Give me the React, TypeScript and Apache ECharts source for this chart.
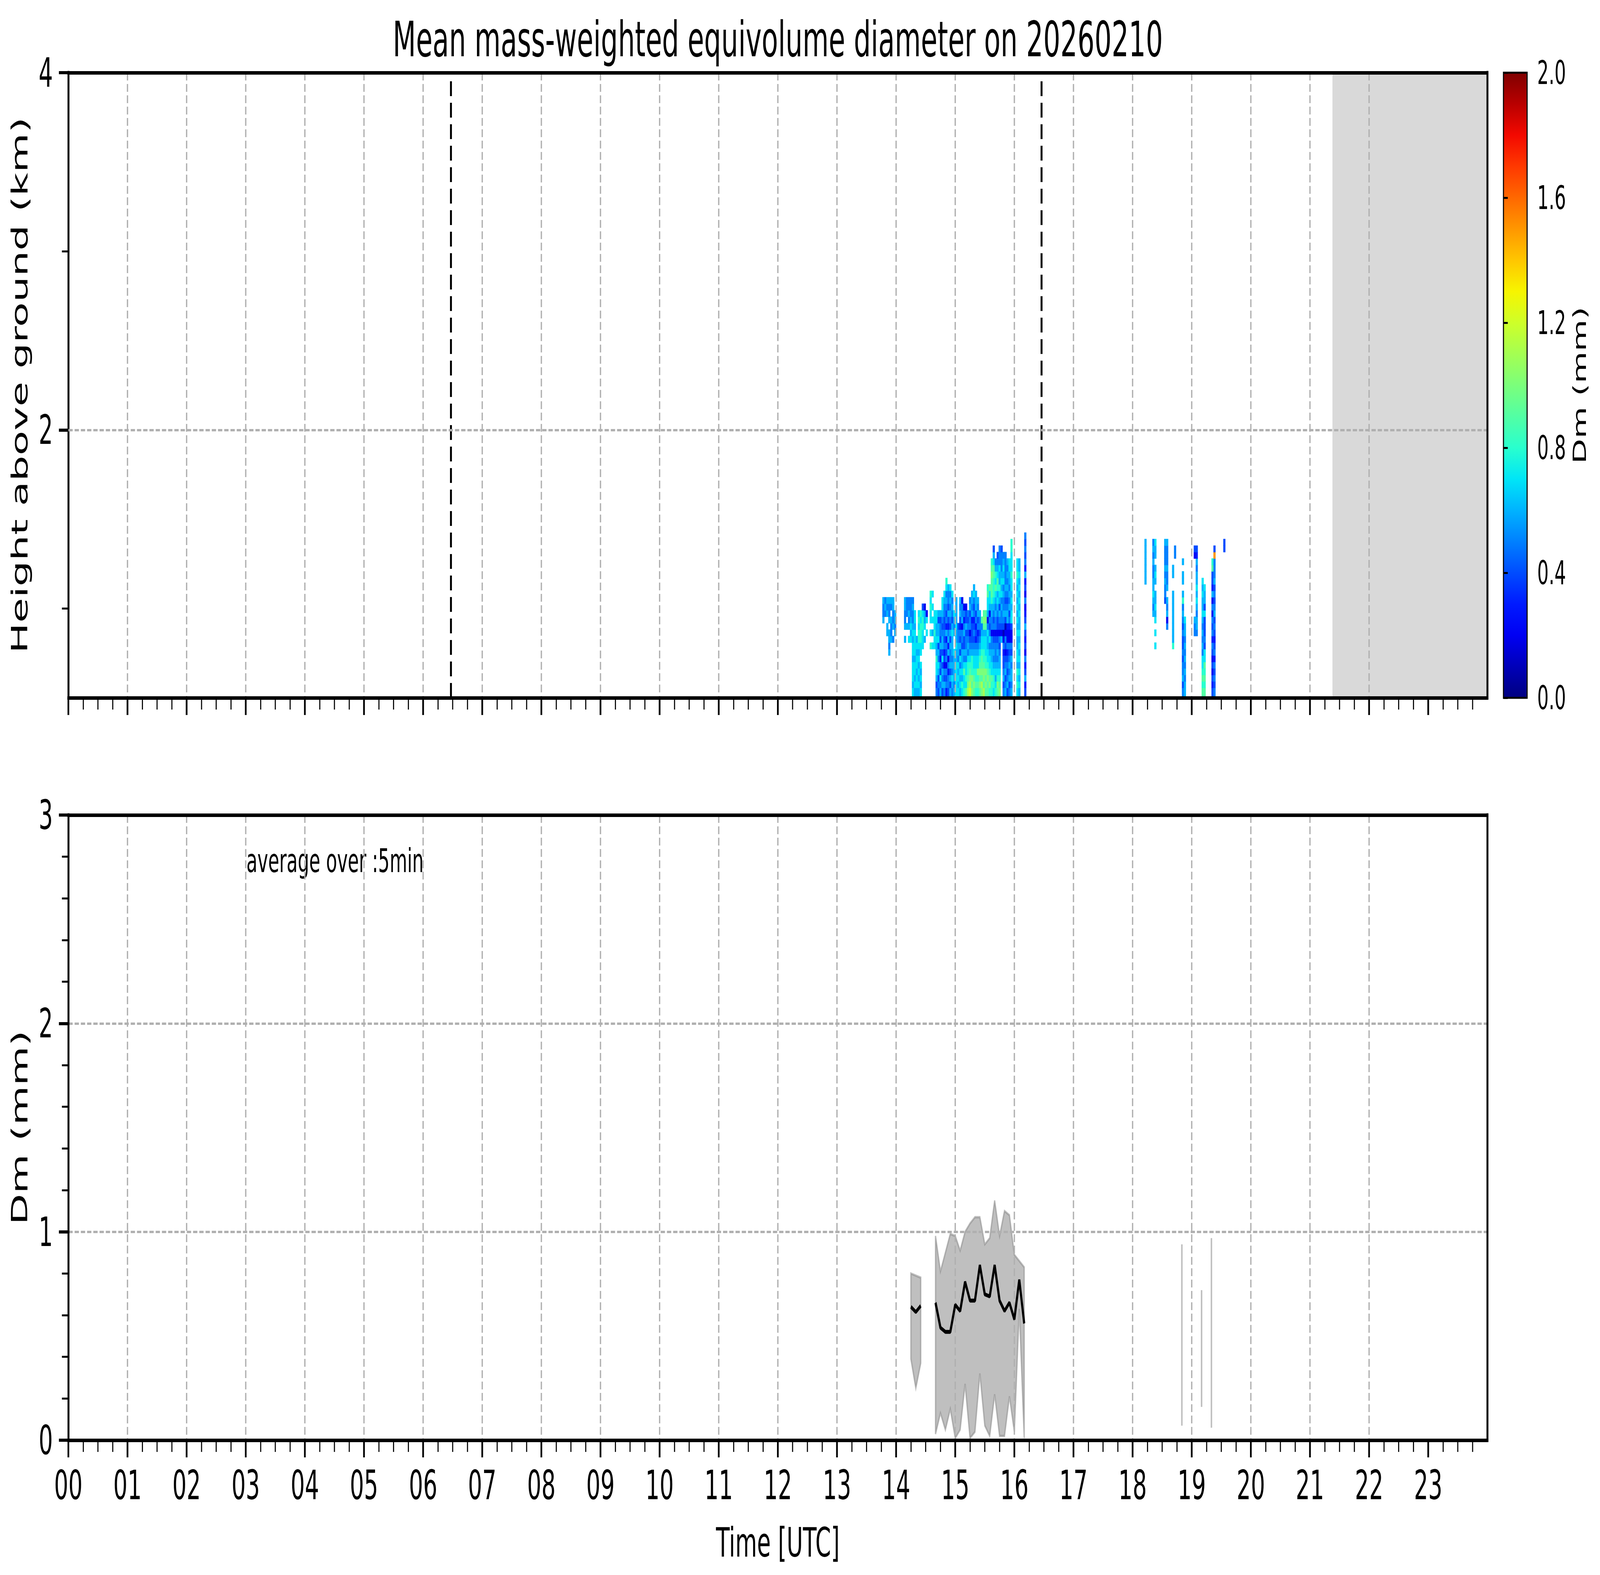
import React, { useEffect, useRef } from 'react';
import * as echarts from 'echarts';

// reference canvas size; the chart is laid out in these pixels and fitted to the window
const REF_W = 7442;
const REF_H = 4031;
const FONT = 'DejaVu Sans';

// matplotlib "jet", sampled every 0.05
const JET = [
  '#000080', '#0000b9', '#0000f3', '#001aff', '#004cff', '#0080ff', '#00b3ff',
  '#00e5f7', '#29ffce', '#52ffa4', '#7bff7b', '#a4ff52', '#ceff29', '#f7f500',
  '#ffc600', '#ff9700', '#ff6800', '#ff3900', '#f30900', '#b90000', '#800000',
];

const HOUR_LABELS = [
  '00', '01', '02', '03', '04', '05', '06', '07', '08', '09', '10', '11',
  '12', '13', '14', '15', '16', '17', '18', '19', '20', '21', '22', '23',
];
const HOUR_TICKS = HOUR_LABELS.map((_, i) => i);
const TOP_Y_MAJOR = [2, 4];
const TOP_Y_MINOR = [1, 3];
const CBAR_MIN = 0;
const CBAR_MAX = 2;

// vertical dashed markers and the no-data span (hours UTC)
const MARK_HOURS = [6.47, 16.46];
const NODATA_FROM = 21.38;

// radar range gate edges (km above ground)
const GATE_EDGES = [
  0.5, 0.557, 0.593, 0.629, 0.666, 0.702, 0.738, 0.774, 0.81, 0.847, 0.883,
  0.919, 0.955, 0.991, 1.028, 1.064, 1.1, 1.136, 1.172, 1.209, 1.245, 1.281,
  1.317, 1.353, 1.39, 1.426, 1.462,
];

// Dm code per gate: index in this string * 0.1 mm, '.' = no echo
const DM_CODES = '0123456789ABCDEF';
const COL_MIN = 2;

// first rain event, 2-min columns from 13:46, [lowest gate, codes upward]
const EV1_START_MIN = 826;
const EV1_COLS: [number, string][] = [
  [11, '6556'], [12, '565'], [9, '66.656'], [6, '6566.6556'], [8, '6556.56'],
  [8, '5.65566'], [9, '6566'], [0, ''], [0, ''], [0, ''], [0, ''],
  [8, '6.65566'], [10, '6.555'], [8, '7.65655'], [8, '7676555'],
  [0, '767776776765565'], [0, '6767767777677'], [0, '677677676'],
  [0, '6767676788787'], [0, '76767.7788878'], [7, '7778874'], [8, '6.7662'],
  [9, '7.72'], [0, ''], [7, '8.7.77878'], [7, '7.6.7.7.7'], [7, '778777'],
  [0, '5467786676677'], [0, '4546756476646'], [0, '6574534645546'],
  [0, '465647466545677'], [0, '5645243545445567'], [0, '354525453635456578'],
  [0, '45535263653464556'], [0, '64646556464565657'], [0, '5675656667645657'],
  [0, '6566667..6567'], [0, '777776676676666'], [0, '76767566554'],
  [0, '676757464534656'], [0, '786766645526552'], [0, '87797564465352'],
  [0, '97877565546442'], [0, 'BA98875654545'], [0, 'CBA987654255465'],
  [0, 'A9A8886544436566'], [0, '9A987765454354576'], [0, '8988776534354666'],
  [0, '898A77654354656'], [0, '9A9A987654556'], [0, 'AB9A99877659'],
  [0, 'B9AA9887769A9'], [0, '9A9A8877769A9'], [0, '99A98776675267798'],
  [0, '8A987765754526779'], [0, '889776655255668999A98'],
  [0, '78876565425456788899764'], [0, '876765554255656797865'],
  [0, '9A87656542445676897654'], [0, 'A9876654524564678667555'],
  [8, '624556576765554'], [0, '5465443521456556576765'],
  [0, '6546542452146545655555'], [0, '465454352236654565656'],
  [0, '546565452235465656677'], [0, '656656452247767677877788'],
  [0, ''], [0, ''], [0, '787867766767676767877'], [0, '676767676766767676766'],
  [0, ''], [0, ''], [0, '4364352434643252436354545'], [0, ''],
];

// second rain event, 2-min columns from 18:10
const EV2_START_MIN = 1090;
const EV2_COLS: [number, string][] = [
  [0, ''], [17, '6666666'], [0, ''], [0, ''], [0, ''], [12, '656766556565'],
  [7, '7.7.76766.676.667'], [0, ''], [0, ''], [0, ''], [0, ''],
  [14, '4556565556'], [10, '52656.65565556'], [0, ''], [0, ''],
  [7, '866666666..66'], [21, '55'], [0, ''], [0, ''], [0, ''],
  [0, '5465545445456586.66.6'], [0, '665656565667'], [0, ''], [0, ''], [0, ''],
  [0, ''], [9, '556.........24'], [9, '56656767665634'], [0, ''], [0, ''],
  [0, '989877565656766767'], [0, '98989774544474667'], [0, ''], [0, ''], [0, ''],
  [0, '434242453545252634498'], [0, '545453543454654546555F4'],
  [0, ''], [0, ''], [0, ''], [0, ''], [22, '44'],
];

// 5-min averaged surface Dm (minutes UTC, mm)
const SEG1_MIN = [855, 860, 865];
const SEG1_MEAN = [0.64, 0.615, 0.645];
const SEG1_LO = [0.39, 0.25, 0.37];
const SEG1_HI = [0.8, 0.79, 0.78];

const SEG2_MIN = [880, 885, 890, 895, 900, 905, 910, 915, 920, 925, 930, 935, 940, 945, 950, 955, 960, 965, 970];
const SEG2_MEAN = [0.66, 0.54, 0.52, 0.52, 0.65, 0.62, 0.76, 0.67, 0.67, 0.84, 0.7, 0.69, 0.84, 0.67, 0.62, 0.66, 0.58, 0.77, 0.56];
const SEG2_LO = [0.03, 0.13, 0.05, 0.15, 0.01, 0.05, 0.27, 0.01, 0.04, 0.32, 0.07, 0.02, 0.22, 0.02, 0.02, 0.21, 0.04, 0.63, 0.01];
const SEG2_HI = [0.98, 0.81, 0.9, 0.99, 0.98, 0.91, 1.0, 1.04, 1.07, 1.07, 0.94, 0.97, 1.15, 0.98, 1.1, 1.08, 0.89, 0.86, 0.83];

const SPIKE_MIN = [1130, 1150, 1160];
const SPIKE_LO = [0.07, 0.16, 0.06];
const SPIKE_HI = [0.94, 0.72, 0.97];

function columnsToCells(startMin: number, cols: [number, string][]) {
  const cells: number[][] = [];
  cols.forEach(([bottom, codes], j) => {
    const t0 = (startMin + j * COL_MIN) / 60;
    const t1 = (startMin + (j + 1) * COL_MIN) / 60;
    for (let k = 0; k < codes.length; k++) {
      if (codes[k] === '.') continue;
      const row = bottom + k;
      cells.push([t0, t1, GATE_EDGES[row], GATE_EDGES[row + 1], DM_CODES.indexOf(codes[k]) * 0.1]);
    }
  });
  return cells;
}

const bands = [
  { t: SEG1_MIN, lo: SEG1_LO, hi: SEG1_HI },
  { t: SEG2_MIN, lo: SEG2_LO, hi: SEG2_HI },
  ...SPIKE_MIN.map((m, i) => ({ t: [m], lo: [SPIKE_LO[i]], hi: [SPIKE_HI[i]] })),
];

const gridLine = { color: '#b0b0b0', width: 6, type: [20, 9] };
const spine = { color: '#000', width: 9, cap: 'square' };
const major = { color: '#000', width: 8 };
const minor = { color: '#000', width: 5 };

const spineAxis = (extra: any) => ({
  type: 'value',
  z: 5,
  axisLine: { show: true, onZero: false, lineStyle: spine },
  axisTick: { show: false },
  axisLabel: { show: false },
  splitLine: { show: false },
  ...extra,
});

const timeAxis = (gridIndex: number, labels: boolean) => ({
  type: 'value',
  gridIndex,
  min: 0,
  max: 24,
  interval: 1,
  z: 3,
  axisLine: { show: true, onZero: false, lineStyle: spine },
  axisTick: { show: true, length: 44, customValues: HOUR_TICKS, lineStyle: major },
  minorTick: { show: true, splitNumber: 4, length: 30, lineStyle: minor },
  axisLabel: {
    show: labels,
    customValues: HOUR_TICKS,
    formatter: (v: number) => HOUR_LABELS[v] ?? '',
    fontSize: 104,
    color: '#000',
    margin: 63,
  },
  splitLine: { show: true, showMinLine: false, showMaxLine: false, lineStyle: gridLine },
});

const text = (t: string, x: number, y: number, size: number, extra: any = {}) => ({
  type: 'text',
  x,
  y,
  rotation: extra.rotation ?? 0,
  style: {
    text: t,
    fontSize: size,
    fontFamily: FONT,
    fill: '#000',
    textAlign: extra.align ?? 'center',
    align: extra.align ?? 'center',
    textVerticalAlign: 'middle',
    verticalAlign: 'middle',
  },
});

function buildOption(): any {
  const cells = [...columnsToCells(EV1_START_MIN, EV1_COLS), ...columnsToCells(EV2_START_MIN, EV2_COLS)];

  return {
    animation: false,
    backgroundColor: '#fff',
    textStyle: { fontFamily: FONT },
    grid: [
      { left: 318, top: 186, width: 6600, height: 1600 },
      { left: 318, top: 2086, width: 6600, height: 1600 },
      { left: 6993, top: 186, width: 110, height: 1600 },
    ],
    xAxis: [
      timeAxis(0, false),
      spineAxis({ gridIndex: 0, position: 'top', min: 0, max: 24 }),
      timeAxis(1, true),
      spineAxis({ gridIndex: 1, position: 'top', min: 0, max: 24 }),
      { type: 'value', gridIndex: 2, min: 0, max: 1, show: false },
    ],
    yAxis: [
      {
        type: 'value', gridIndex: 0, min: 0.5, max: 4, position: 'left', z: 3,
        axisLine: { show: true, onZero: false, lineStyle: spine },
        axisTick: { show: true, length: 44, customValues: TOP_Y_MAJOR, lineStyle: major },
        axisLabel: { customValues: TOP_Y_MAJOR, fontSize: 104, color: '#000', margin: 72 },
        splitLine: { show: false },
      },
      {
        type: 'value', gridIndex: 0, min: 0.5, max: 4, position: 'left', z: 3,
        axisLine: { show: false },
        axisTick: { show: true, length: 30, customValues: TOP_Y_MINOR, lineStyle: minor },
        axisLabel: { show: false },
        splitLine: { show: false },
      },
      spineAxis({ gridIndex: 0, position: 'right', min: 0.5, max: 4 }),
      {
        type: 'value', gridIndex: 1, min: 0, max: 3, interval: 1, position: 'left', z: 3,
        axisLine: { show: true, onZero: false, lineStyle: spine },
        axisTick: { show: true, length: 44, lineStyle: major },
        minorTick: { show: true, splitNumber: 5, length: 30, lineStyle: minor },
        axisLabel: { fontSize: 104, color: '#000', margin: 72 },
        splitLine: { show: true, showMinLine: false, showMaxLine: false, lineStyle: gridLine },
      },
      spineAxis({ gridIndex: 1, position: 'right', min: 0, max: 3 }),
      {
        type: 'value', gridIndex: 2, min: CBAR_MIN, max: CBAR_MAX, interval: 0.4, position: 'right', z: 3,
        axisLine: { show: false },
        axisTick: { show: true, length: 20, lineStyle: minor },
        axisLabel: { fontSize: 84, color: '#000', margin: 47, formatter: (v: number) => v.toFixed(1) },
        splitLine: { show: false },
      },
    ],
    visualMap: {
      type: 'continuous', show: false, min: CBAR_MIN, max: CBAR_MAX, dimension: 4, seriesIndex: 0,
      inRange: { color: JET },
    },
    series: [
      {
        type: 'custom', xAxisIndex: 0, yAxisIndex: 0, z: 2,
        encode: { x: [0, 1], y: [2, 3] },
        data: cells,
        renderItem: (_: any, api: any) => {
          const p0 = api.coord([api.value(0), api.value(3)]);
          const p1 = api.coord([api.value(1), api.value(2)]);
          return {
            type: 'rect',
            shape: { x: p0[0], y: p0[1], width: p1[0] - p0[0] + 1, height: p1[1] - p0[1] + 1 },
            style: { fill: api.visual('color') },
          };
        },
      },
      {
        type: 'line', xAxisIndex: 0, yAxisIndex: 0, data: [], z: 2,
        markArea: {
          silent: true,
          itemStyle: { color: 'rgba(128,128,128,0.3)' },
          data: [[{ xAxis: NODATA_FROM }, { xAxis: 24 }]],
        },
        markLine: {
          silent: true, symbol: ['none', 'none'], label: { show: false },
          data: [
            ...MARK_HOURS.map((h) => ({ xAxis: h, lineStyle: { color: '#000', width: 9, type: [38, 17] } })),
            { yAxis: 2, lineStyle: gridLine },
          ],
        },
      },
      {
        type: 'custom', xAxisIndex: 2, yAxisIndex: 3, z: 2,
        data: bands.map((b, i) => [b.t[0] / 60, i]),
        renderItem: (_: any, api: any) => {
          const b = bands[api.value(1)];
          const top = b.t.map((m, i) => api.coord([m / 60, b.hi[i]]));
          const bot = b.t.map((m, i) => api.coord([m / 60, b.lo[i]])).reverse();
          const grey = 'rgba(128,128,128,0.5)';
          if (b.t.length === 1) {
            return { type: 'polyline', shape: { points: top.concat(bot) }, style: { stroke: grey, lineWidth: 7 } };
          }
          return { type: 'polygon', shape: { points: top.concat(bot) }, style: { fill: grey, stroke: grey, lineWidth: 6 } };
        },
      },
      {
        type: 'line', xAxisIndex: 2, yAxisIndex: 3, z: 4, showSymbol: false,
        lineStyle: { color: '#000', width: 10 },
        data: SEG1_MIN.map((m, i) => [m / 60, SEG1_MEAN[i]]),
      },
      {
        type: 'line', xAxisIndex: 2, yAxisIndex: 3, z: 4, showSymbol: false,
        lineStyle: { color: '#000', width: 10 },
        data: SEG2_MIN.map((m, i) => [m / 60, SEG2_MEAN[i]]),
      },
      {
        type: 'custom', xAxisIndex: 4, yAxisIndex: 5, z: 2,
        data: [[0, 0]],
        renderItem: (_: any, api: any) => {
          const p0 = api.coord([0, CBAR_MAX]);
          const p1 = api.coord([1, CBAR_MIN]);
          return {
            type: 'rect',
            shape: { x: p0[0], y: p0[1], width: p1[0] - p0[0], height: p1[1] - p0[1] },
            style: {
              fill: new echarts.graphic.LinearGradient(0, 1, 0, 0,
                JET.map((c, i) => ({ offset: i / (JET.length - 1), color: c }))),
              stroke: '#000',
              lineWidth: 5,
            },
          };
        },
      },
    ],
    graphic: [
      text('Mean mass-weighted equivolume diameter on 20260210', 3618, 101, 125),
      text('Height above ground (km)', 92, 986, 104, { rotation: Math.PI / 2 }),
      text('Dm (mm)', 92, 2886, 104, { rotation: Math.PI / 2 }),
      text('Time [UTC]', 3618, 3948, 104),
      text('Dm (mm)', 7347, 986, 84, { rotation: Math.PI / 2 }),
      text('average over :5min', 1146, 2203, 84, { align: 'left' }),
    ],
  };
}

const App: React.FC = () => {
  const chartRef = useRef<HTMLDivElement>(null);

  useEffect(() => {
    document.documentElement.style.overflow = 'hidden';
    document.body.style.margin = '0';
    document.body.style.overflow = 'hidden';
    if (!chartRef.current) return;
    const el = chartRef.current;
    // fit the fixed-size chart to whatever the window really is
    const sx = document.documentElement.clientWidth / REF_W;
    const sy = document.documentElement.clientHeight / REF_H;
    el.style.transform = `scale(${sx}, ${sy})`;
    const chart = echarts.init(el, null, { renderer: 'svg' });
    chart.setOption(buildOption());
    return () => chart.dispose();
  }, []);

  return (
    <div style={{ position: 'relative', width: '100vw', height: '100vh', overflow: 'hidden' }}>
      <div
        ref={chartRef}
        style={{ position: 'absolute', left: 0, top: 0, width: REF_W, height: REF_H, transformOrigin: '0 0' }}
      />
    </div>
  );
};

export default App;
